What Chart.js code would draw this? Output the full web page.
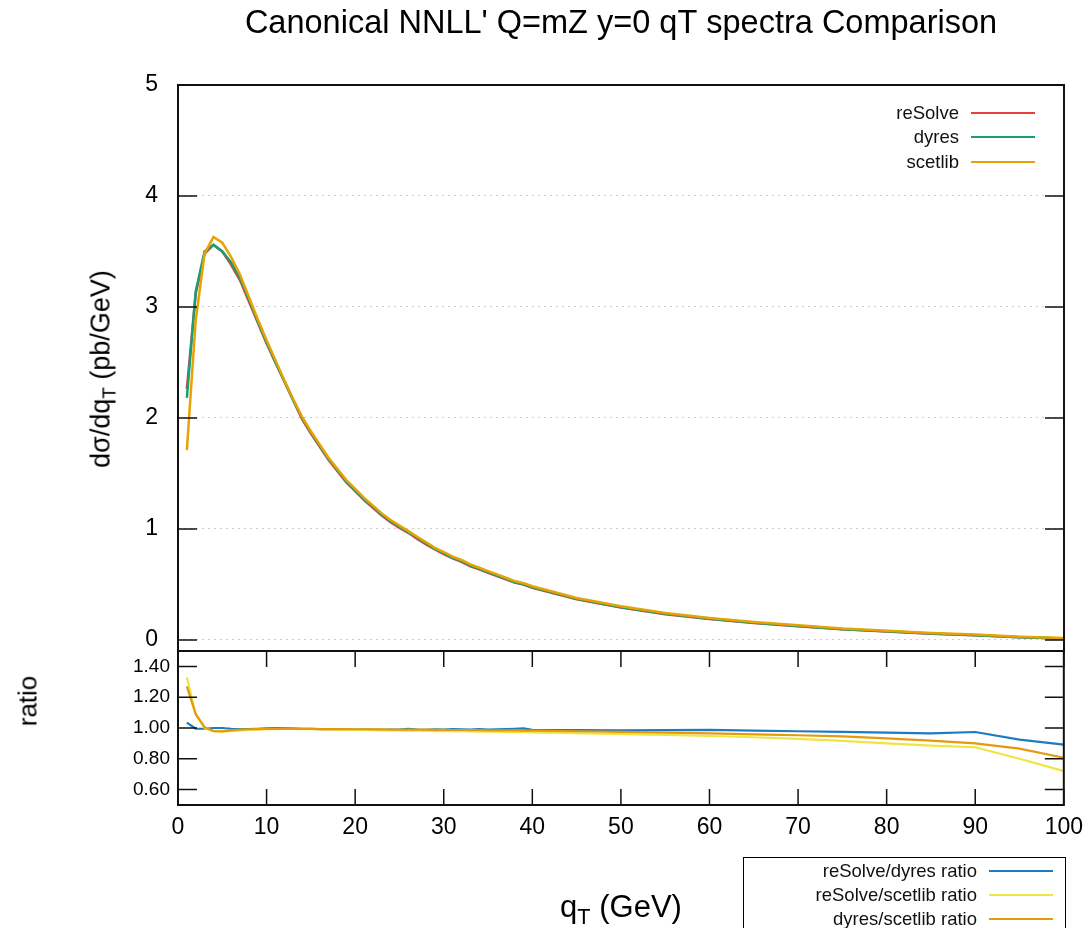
<!DOCTYPE html>
<html lang="en">
<head>
<meta charset="UTF-8">
<title>Canonical NNLL' qT spectra</title>
<script src="https://cdn.jsdelivr.net/npm/chart.js"></script>
<style>
  body { margin: 0; background: #ffffff; font-family: 'Liberation Sans', Arial, sans-serif; }
  #wrap { position: relative; width: 1092px; height: 928px; overflow: hidden; }
  canvas { position: absolute; left: 0; top: 0; }
  .lbl { position: absolute; color: #000; white-space: nowrap; transform: translate(-50%, -50%); }
  .rot { transform: translate(-50%, -50%) rotate(-90deg); }
  sub { font-size: 70%; vertical-align: -0.3em; line-height: 0; }
  .leg { position: absolute; display: flex; align-items: center; color: #111; white-space: nowrap; }
  .leg .ln { display: inline-block; width: 64px; height: 2.5px; margin-left: 12px; }
  #ratioBox { position: absolute; left: 743px; top: 857px; width: 321px; height: 100px; border: 1px solid #000; }
</style>
</head>
<body>
<div id="wrap">
  <canvas id="mainCanvas" width="1092" height="928"></canvas>
  <canvas id="ratioCanvas" width="1092" height="928"></canvas>
  <div class="lbl rot" style="left:101px; top:369px; font-size:27px;">dσ/dq<sub>T</sub> (pb/GeV)</div>
  <div class="lbl rot" style="left:28px; top:701px; font-size:26px;">ratio</div>
  <div class="lbl" style="left:621px; top:907px; font-size:31px;">q<sub>T</sub> (GeV)</div>
  <div id="ratioBox"></div>
</div>
<script>
// q_T points (GeV)
const qT = [1, 2, 3, 4, 5, 6, 7, 8, 9, 10, 11, 12, 13, 14, 15, 16, 17, 18, 19, 20,
            21, 22, 23, 24, 25, 26, 27, 28, 29, 30, 31, 32, 33, 34, 35, 36, 37, 38, 39, 40,
            45, 50, 55, 60, 65, 70, 75, 80, 85, 90, 95, 100];

// dsigma/dqT (pb/GeV)
const reSolve = [2.26, 3.12, 3.48, 3.56, 3.50, 3.38, 3.24, 3.05, 2.86, 2.67, 2.50, 2.33, 2.16, 1.99, 1.86, 1.74, 1.62, 1.52, 1.42, 1.34,
                 1.26, 1.19, 1.12, 1.06, 1.01, 0.965, 0.91, 0.86, 0.815, 0.772, 0.735, 0.704, 0.663, 0.636, 0.604, 0.575, 0.546, 0.517, 0.499, 0.469,
                 0.365, 0.291, 0.232, 0.188, 0.153, 0.123, 0.095, 0.075, 0.056, 0.042, 0.024, 0.012];
const dyres = [2.18, 3.14, 3.50, 3.56, 3.50, 3.40, 3.26, 3.07, 2.87, 2.68, 2.50, 2.33, 2.16, 2.00, 1.87, 1.75, 1.63, 1.53, 1.43, 1.35,
               1.27, 1.20, 1.13, 1.07, 1.02, 0.97, 0.92, 0.87, 0.82, 0.78, 0.74, 0.71, 0.67, 0.64, 0.61, 0.58, 0.55, 0.52, 0.50, 0.475,
               0.37, 0.295, 0.235, 0.19, 0.155, 0.125, 0.097, 0.077, 0.058, 0.043, 0.025, 0.013];
const scetlib = [1.71, 2.88, 3.48, 3.63, 3.58, 3.45, 3.29, 3.09, 2.89, 2.70, 2.52, 2.34, 2.17, 2.01, 1.88, 1.76, 1.64, 1.54, 1.44, 1.36,
                 1.28, 1.21, 1.14, 1.08, 1.03, 0.98, 0.93, 0.88, 0.83, 0.79, 0.75, 0.72, 0.68, 0.65, 0.62, 0.59, 0.56, 0.53, 0.51, 0.483,
                 0.378, 0.303, 0.242, 0.197, 0.162, 0.131, 0.102, 0.082, 0.063, 0.048, 0.029, 0.017];

// ratios
const ratioResolveDyres = [1.035, 0.995, 0.995, 1.0, 1.0, 0.995, 0.993, 0.993, 0.995, 0.998, 1.0, 1.0, 0.998, 0.995, 0.995, 0.993, 0.993, 0.992, 0.993, 0.99,
                           0.99, 0.99, 0.988, 0.99, 0.99, 0.995, 0.99, 0.988, 0.992, 0.99, 0.993, 0.992, 0.99, 0.993, 0.99, 0.992, 0.993, 0.995, 0.997, 0.988,
                           0.987, 0.985, 0.986, 0.988, 0.983, 0.979, 0.975, 0.97, 0.965, 0.974, 0.925, 0.892];
const ratioResolveScetlib = [1.33, 1.09, 1.0, 0.98, 0.978, 0.98, 0.985, 0.987, 0.99, 0.992, 0.993, 0.994, 0.994, 0.993, 0.993, 0.992, 0.991, 0.99, 0.989, 0.988,
                             0.987, 0.986, 0.985, 0.984, 0.984, 0.983, 0.982, 0.981, 0.98, 0.98, 0.98, 0.979, 0.978, 0.977, 0.977, 0.976, 0.975, 0.974, 0.974, 0.972,
                             0.967, 0.96, 0.955, 0.948, 0.94, 0.93, 0.916, 0.90, 0.885, 0.875, 0.80, 0.72];
const ratioDyresScetlib = [1.27, 1.09, 1.005, 0.98, 0.978, 0.985, 0.99, 0.992, 0.993, 0.994, 0.994, 0.994, 0.994, 0.994, 0.994, 0.993, 0.993, 0.993, 0.993, 0.992,
                           0.992, 0.991, 0.991, 0.99, 0.99, 0.99, 0.989, 0.989, 0.988, 0.988, 0.987, 0.987, 0.986, 0.986, 0.985, 0.985, 0.984, 0.984, 0.983, 0.983,
                           0.979, 0.975, 0.97, 0.965, 0.958, 0.953, 0.945, 0.933, 0.918, 0.90, 0.866, 0.807];

// tick labels
const xTicks = [0, 10, 20, 30, 40, 50, 60, 70, 80, 90, 100];
const mainTicks = [0, 1, 2, 3, 4, 5];
const ratioTicks = [0.6, 0.8, 1.0, 1.2, 1.4];

const mainLabels = ['reSolve', 'dyres', 'scetlib'];
const mainColors = ['#e5403a', '#16a07a', '#e8a202'];
const ratioLabels = ['reSolve/dyres ratio', 'reSolve/scetlib ratio', 'dyres/scetlib ratio'];
const ratioColors = ['#1f7bbf', '#f0e442', '#e39b0c'];

const FONT = "'Liberation Sans', Arial, sans-serif";

function pts(xs, ys) {
  return xs.map((x, i) => ({ x: x, y: ys[i] }));
}

// full frame with inward ticks, gnuplot style
const framePlugin = {
  id: 'frame',
  afterDraw(chart, args, opts) {
    const ctx = chart.ctx;
    const a = chart.chartArea;
    ctx.save();
    ctx.strokeStyle = '#111';
    ctx.lineWidth = 2;
    ctx.strokeRect(a.left, a.top, a.right - a.left, a.bottom - a.top);
    ctx.lineWidth = 1.5;
    ctx.beginPath();
    const ys = chart.scales.y;
    ys.ticks.forEach(t => {
      const py = ys.getPixelForValue(t.value);
      ctx.moveTo(a.left, py); ctx.lineTo(a.left + 19, py);
      ctx.moveTo(a.right - 19, py); ctx.lineTo(a.right, py);
    });
    if (opts.xTicks) {
      const xs = chart.scales.x;
      xs.ticks.forEach(t => {
        const px = xs.getPixelForValue(t.value);
        ctx.moveTo(px, a.top); ctx.lineTo(px, a.top + 16);
        ctx.moveTo(px, a.bottom); ctx.lineTo(px, a.bottom - 16);
      });
    }
    ctx.stroke();
    ctx.restore();
  }
};

// higher order is drawn first, so the last series ends up on top
const mainChart = new Chart(document.getElementById('mainCanvas'), {
  type: 'line',
  data: {
    datasets: [
      { label: mainLabels[0], data: pts(qT, reSolve), borderColor: mainColors[0], order: 3 },
      { label: mainLabels[1], data: pts(qT, dyres), borderColor: mainColors[1], order: 2 },
      { label: mainLabels[2], data: pts(qT, scetlib), borderColor: mainColors[2], order: 1 }
    ]
  },
  options: {
    responsive: false,
    animation: false,
    elements: { point: { radius: 0 }, line: { borderWidth: 2.5, tension: 0 } },
    layout: { padding: { left: 0, right: 28, top: 0, bottom: 277 } },
    plugins: {
      legend: { display: false },
      tooltip: { enabled: false },
      title: {
        display: true,
        fullSize: false,
        text: "Canonical NNLL' Q=mZ y=0 qT spectra Comparison",
        color: '#000',
        font: { family: FONT, size: 32.5, weight: 'normal' },
        padding: { top: 5, bottom: 41 }
      },
      frame: { xTicks: false }
    },
    scales: {
      x: { type: 'linear', min: 0, max: 100, display: false },
      y: {
        min: -0.1, max: 5,
        afterBuildTicks: s => { s.ticks = mainTicks.map(v => ({ value: v })); },
        afterFit: s => { s.width = 178; },
        ticks: { padding: 20, color: '#000', font: { family: FONT, size: 23 }, callback: v => String(v) },
        grid: { drawTicks: false, color: '#cccccc', lineWidth: 1 },
        border: { display: false, dash: [2, 4] }
      }
    }
  },
  plugins: [framePlugin]
});

const ratioChart = new Chart(document.getElementById('ratioCanvas'), {
  type: 'line',
  data: {
    datasets: [
      { label: ratioLabels[0], data: pts(qT, ratioResolveDyres), borderColor: ratioColors[0], order: 3 },
      { label: ratioLabels[1], data: pts(qT, ratioResolveScetlib), borderColor: ratioColors[1], order: 2 },
      { label: ratioLabels[2], data: pts(qT, ratioDyresScetlib), borderColor: ratioColors[2], order: 1 }
    ]
  },
  options: {
    responsive: false,
    animation: false,
    elements: { point: { radius: 0 }, line: { borderWidth: 2.2, tension: 0 } },
    layout: { padding: { left: 0, right: 28, top: 651, bottom: 0 } },
    plugins: {
      legend: { display: false },
      tooltip: { enabled: false },
      frame: { xTicks: true }
    },
    scales: {
      x: {
        type: 'linear', min: 0, max: 100,
        afterBuildTicks: s => { s.ticks = xTicks.map(v => ({ value: v })); },
        afterFit: s => { s.height = 123; },
        ticks: { padding: 9, color: '#000', maxRotation: 0, font: { family: FONT, size: 23 } },
        grid: { display: false, drawTicks: false },
        border: { display: false }
      },
      y: {
        min: 0.5, max: 1.5,
        afterBuildTicks: s => { s.ticks = ratioTicks.map(v => ({ value: v })); },
        afterFit: s => { s.width = 178; },
        ticks: { padding: 8, color: '#000', font: { family: FONT, size: 19 }, callback: v => Number(v).toFixed(2) },
        grid: { display: false, drawTicks: false },
        border: { display: false }
      }
    }
  },
  plugins: [framePlugin]
});

// legends: text on the left, line sample on the right
function addLegend(labels, colors, pos, size) {
  const wrap = document.getElementById('wrap');
  labels.forEach((lab, i) => {
    const row = document.createElement('div');
    row.className = 'leg';
    row.style.right = pos.right + 'px';
    row.style.top = (pos.y[i] - size * 0.6) + 'px';
    row.style.fontSize = size + 'px';
    row.style.height = (size * 1.2) + 'px';
    const t = document.createElement('span');
    t.textContent = lab;
    const ln = document.createElement('span');
    ln.className = 'ln';
    ln.style.background = colors[i];
    row.appendChild(t);
    row.appendChild(ln);
    wrap.appendChild(row);
  });
}
addLegend(mainLabels, mainColors, { right: 57, y: [113, 137, 162] }, 18.5);
addLegend(ratioLabels, ratioColors, { right: 39, y: [871, 895, 919] }, 18.5);
</script>
</body>
</html>
